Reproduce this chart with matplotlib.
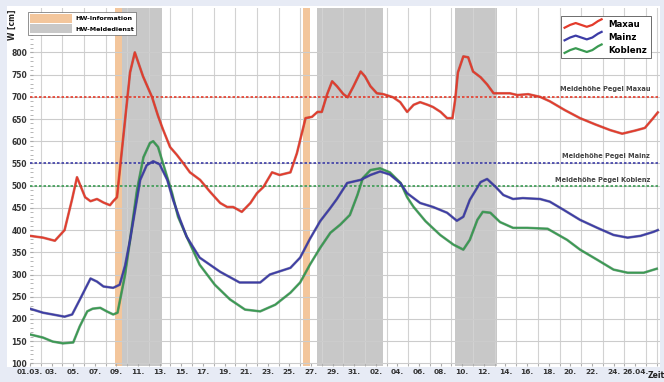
import numpy as np
import matplotlib
matplotlib.use("Agg")
import matplotlib.pyplot as plt
from matplotlib.lines import Line2D
from matplotlib.patches import Patch, Rectangle
from matplotlib.legend_handler import HandlerBase
import matplotlib.patheffects as pe

# ---------------- data ----------------
maxau_day = [0.0, 1.2, 2.3, 3.2, 3.9, 4.35, 5.1, 5.6, 6.2, 6.8, 7.4, 7.7, 8.05, 8.6, 9.26, 9.7,
             10.46, 11.3, 11.85, 12.3, 12.96, 13.6, 14.17, 14.8, 15.74, 16.67, 17.6, 18.24, 18.8,
             19.6, 20.4, 21.0, 21.6, 22.4, 23.1, 24.1, 24.7, 25.5, 26.1, 26.6, 27.0, 27.5, 27.96,
             28.4, 29.0, 29.4, 29.9, 30.6, 31.0, 31.5, 32.1, 32.7, 33.6, 34.26, 34.9, 35.5, 36.1,
             36.8, 37.3, 38.0, 38.6, 39.1, 39.35, 39.6, 40.1, 40.55, 41.0, 41.7, 42.3, 42.9, 43.5,
             44.4, 45.1, 46.1, 47.2, 48.1, 49.5, 50.9, 52.3, 53.7, 54.8, 56.0, 56.9, 57.6, 58.1]
maxau_val = [387, 383, 376, 400, 470, 519, 474, 465, 470, 462, 456, 465, 474, 602, 755, 800,
             746, 699, 657, 627, 587, 569, 551, 530, 513, 486, 461, 452, 452,
             441, 461, 483, 497, 530, 524, 530, 573, 652, 655, 666, 666, 706, 735,
             724, 706, 699, 722, 757, 746, 724, 708, 706, 699, 688, 666, 682, 688,
             682, 677, 666, 652, 652, 695, 755, 791, 789, 757, 744, 728, 708, 708,
             708, 704, 706, 700, 690, 670, 652, 638, 625, 617, 624, 630, 650, 665]

mainz_day = [0.0, 1.2, 2.1, 3.2, 3.9, 4.6, 5.6, 6.2, 6.8, 7.7, 8.3, 8.8, 9.26, 10.2, 10.8, 11.4,
             12.0, 12.7, 13.24, 13.9, 14.5, 15.7, 17.6, 19.4, 21.3, 22.2, 24.1, 25.0, 25.9, 26.85,
             27.8, 28.4, 29.35, 30.6, 31.5, 32.4, 33.3, 34.3, 34.9, 36.1, 37.3, 38.6, 39.5, 40.1,
             40.7, 41.7, 42.3, 43.1, 43.8, 44.7, 45.6, 47.2, 48.1, 49.35, 50.9, 52.5, 54.0, 55.3,
             56.5, 57.7, 58.1]
mainz_val = [223, 214, 210, 205, 210, 243, 291, 284, 273, 270, 277, 320, 378, 513, 546, 555,
             548, 513, 468, 423, 385, 338, 306, 282, 282, 300, 315, 338, 380, 420,
             450, 470, 506, 513, 524, 532, 525, 505, 483, 461, 452, 439, 421, 430,
             468, 508, 515, 497, 479, 470, 472, 470, 464, 446, 423, 405, 389, 383,
             387, 396, 400]

koblenz_day = [0.0, 1.2, 2.1, 3.05, 4.0, 4.6, 5.3, 5.8, 6.5, 7.1, 7.7, 8.1, 8.8, 9.26, 9.9, 10.5,
               11.1, 11.4, 11.85, 12.5, 13.15, 13.7, 14.5, 15.7, 17.1, 18.5, 19.9, 21.3, 22.7,
               24.1, 25.0, 25.9, 26.85, 27.8, 28.7, 29.6, 30.3, 30.8, 31.5, 32.4, 33.3, 34.3,
               34.9, 35.5, 36.6, 37.96, 39.2, 40.1, 40.7, 41.4, 41.9, 42.6, 43.5, 44.7, 46.0,
               47.9, 48.4, 49.7, 50.9, 52.5, 54.0, 55.3, 56.8, 58.0]
koblenz_val = [165, 158, 149, 145, 147, 183, 217, 223, 225, 217, 210, 214, 300, 378, 490, 564,
               596, 600, 587, 535, 483, 430, 385, 322, 277, 244, 221, 217, 232,
               259, 282, 322, 360, 394, 412, 434, 479, 517, 535, 539, 530, 506,
               474, 452, 420, 389, 367, 356, 378, 423, 441, 439, 418, 405, 405,
               403, 396, 378, 356, 333, 311, 304, 304, 313]

meldehoehe = {"Maxau": 700, "Mainz": 550, "Koblenz": 500}
meld_labels = ["Meldehöhe Pegel Maxau", "Meldehöhe Pegel Mainz", "Meldehöhe Pegel Koblenz"]

hw_info = [(7.9, 8.5), (25.3, 25.9)]
hw_melde = [(8.5, 12.2), (26.6, 32.7), (39.3, 43.2)]

x_tick_days = list(range(0, 57, 2))
x_tick_labels = ["01.03.", "03.", "05.", "07.", "09.", "11.", "13.", "15.", "17.", "19.", "21.",
                 "23.", "25.", "27.", "29.", "31.", "02.", "04.", "06.", "08.", "10.", "12.",
                 "14.", "16.", "18.", "20.", "22.", "24.", "26.04."]
y_ticks = list(range(100, 801, 50))

series_names = ["Maxau", "Mainz", "Koblenz"]
colors = {"Maxau": "#e33b2b", "Mainz": "#3c3ca6", "Koblenz": "#3a9a52"}
dark = {"Maxau": "#a51d12", "Mainz": "#26266e", "Koblenz": "#23683a"}

# ---------------- figure ----------------
W, H = 664, 382
fig = plt.figure(figsize=(W / 100, H / 100), dpi=100)
bg = "#e7ebf5"
fig.patch.set_facecolor(bg)
fig.patches.append(Rectangle((7 / W, 1 - 367 / H), (660 - 7) / W, (367 - 6) / H,
                             transform=fig.transFigure, facecolor="white",
                             edgecolor="none", zorder=-10))

ax = fig.add_axes([30 / W, 1 - 366 / H, (660 - 30) / W, (366 - 8) / H])
ax.set_zorder(1)
ax.set_facecolor("white")
ax.set_xlim(0, 58.3)
ax.set_ylim(94, 900)

for a, b in hw_info:
    ax.axvspan(a, b, color="#f3c69c", lw=0, zorder=1)
for a, b in hw_melde:
    ax.axvspan(a, b, color="#c8c8c8", lw=0, zorder=1)

ax.set_axisbelow("line")
ax.set_xticks(np.arange(0, 59, 1), minor=True)
ax.set_yticks(y_ticks)
ax.set_yticks(np.arange(100, 900, 10), minor=True)
ax.grid(True, which="major", axis="y", color="#cccccc", lw=0.8)
ax.grid(True, which="minor", axis="x", color="#d2d2d2", lw=0.8)
ax.set_xticks(x_tick_days)
ax.set_xticklabels(x_tick_labels)
ax.set_yticklabels([str(v) for v in y_ticks])
ax.tick_params(axis="both", which="both", direction="in", length=2, color="#aaaaaa",
               labelsize=5.5, labelcolor="#333333", pad=2)
ax.tick_params(axis="x", labelsize=5.3)
for lab in ax.get_xticklabels() + ax.get_yticklabels():
    lab.set_fontweight("bold")
for s in ax.spines.values():
    s.set_visible(False)

# Meldehöhe lines
for name in series_names:
    ax.axhline(meldehoehe[name], color=colors[name], lw=1.2, ls=(0, (1.5, 1.2)), zorder=2)

ax.text(57.4, 718, meld_labels[0], ha="right", va="center", fontsize=4.8, fontweight="bold", color="#444444")
ax.text(57.4, 566, meld_labels[1], ha="right", va="center", fontsize=4.8, fontweight="bold", color="#444444")
ax.text(57.4, 513, meld_labels[2], ha="right", va="center", fontsize=4.8, fontweight="bold", color="#444444")

# series
data = {"Maxau": (maxau_day, maxau_val), "Mainz": (mainz_day, mainz_val),
        "Koblenz": (koblenz_day, koblenz_val)}
for name in ["Koblenz", "Mainz", "Maxau"]:
    d, v = data[name]
    ax.plot(d, v, color=colors[name], lw=1.2, zorder=3,
            path_effects=[pe.Stroke(linewidth=1.9, foreground=dark[name], alpha=0.55), pe.Normal()])
handles = [Line2D([], [], color=colors[n], lw=1.6) for n in series_names]


class WaveHandler(HandlerBase):
    def create_artists(self, legend, orig_handle, xdescent, ydescent, width, height, fontsize, trans):
        fx = [0.0, 0.15, 0.3, 0.45, 0.6, 0.75, 0.9, 1.0]
        fy = [0.15, 0.45, 0.65, 0.45, 0.25, 0.45, 0.85, 1.05]
        xs = [-xdescent + f * width for f in fx]
        ys = [-ydescent + f * height for f in fy]
        ln = Line2D(xs, ys, color=orig_handle.get_color(), lw=1.6, transform=trans)
        return [ln]


leg = ax.legend(handles, series_names, loc="upper right",
                bbox_to_anchor=(655 / W, 1 - 12 / H), bbox_transform=fig.transFigure,
                frameon=True, fancybox=False, framealpha=1,
                prop={"size": 6.2, "weight": "bold"}, handlelength=4.3, handleheight=1.3,
                labelspacing=0.35, borderpad=0.4, handletextpad=0.8,
                handler_map={Line2D: WaveHandler()})
leg.get_frame().set_edgecolor("#555555")
leg.get_frame().set_linewidth(0.6)
ax.add_artist(leg)

band_handles = [Patch(facecolor="#f3c69c", edgecolor="none"), Patch(facecolor="#c8c8c8", edgecolor="none")]
leg2 = ax.legend(band_handles, ["HW-Information", "HW-Meldedienst"], loc="upper left",
                 bbox_to_anchor=(25 / W, 1 - 9 / H), bbox_transform=fig.transFigure,
                 frameon=True, fancybox=False, framealpha=1,
                 prop={"size": 4.6, "weight": "bold"}, handlelength=6.5, handleheight=1.7,
                 labelspacing=0.25, borderpad=0.3, handletextpad=0.6)
leg2.get_frame().set_edgecolor("#666666")
leg2.get_frame().set_linewidth(0.5)

fig.text(12 / W, 1 - 25 / H, "W [cm]", rotation=90, ha="center", va="center",
         fontsize=5.5, fontweight="bold", color="#222222")
fig.text(648 / W, 1 - 375 / H, "Zeit", ha="left", va="center",
         fontsize=5.5, fontweight="bold", color="#222222")

fig.savefig("out.png", dpi=100, facecolor=fig.get_facecolor())
